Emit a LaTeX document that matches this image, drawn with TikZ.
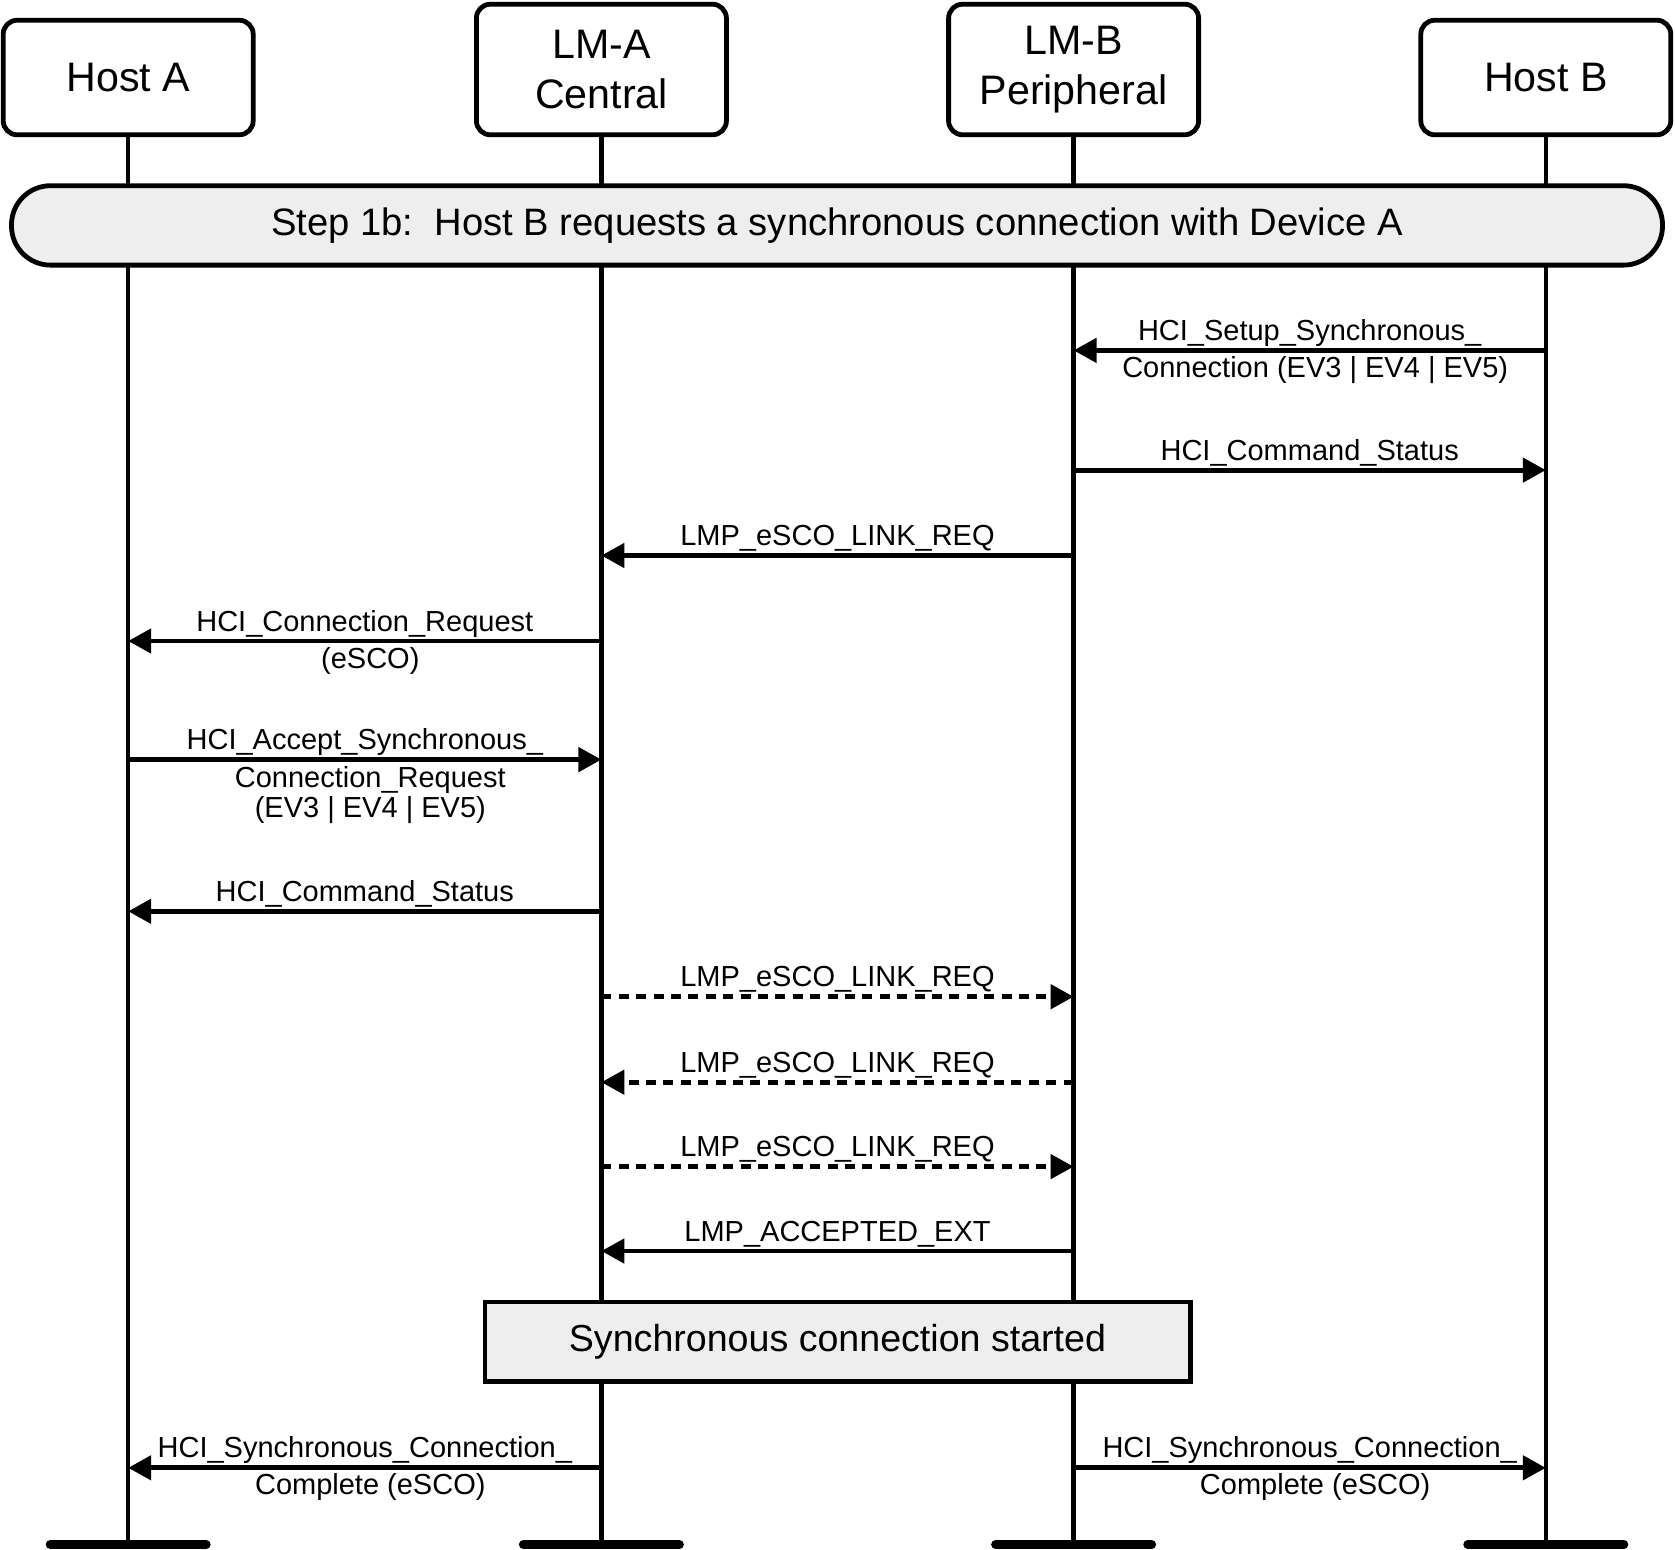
\documentclass[tikz,border=0pt]{standalone}
\usepackage{fontspec}
\setmainfont{Liberation Sans}
\usetikzlibrary{arrows.meta,calc}
\definecolor{bandgray}{HTML}{EEEEEE}
\begin{document}
\begin{tikzpicture}[x=0.5pt,y=-0.5pt,
  actor/.style={draw, line width=2.4pt, rounded corners=7pt, minimum width=125pt, align=center, fill=white,
    inner sep=0pt, font=\fontsize{20.6}{25}\selectfont},
  life/.style={line width=2.2pt},
  msg/.style={line width=2.4pt, -{Triangle[length=11.5pt,width=12pt]}},
  dmsg/.style={msg, dash pattern=on 5pt off 3.7pt},
  lbl/.style={font=\fontsize{14.5}{15}\selectfont, anchor=base, inner sep=0pt},
  endbar/.style={line width=4.5pt, line cap=round},
  band/.style={draw, line width=2.4pt, fill=bandgray, rounded corners=19.5pt, inner sep=0pt,
    minimum width=825.5pt, minimum height=39.7pt, font=\fontsize{19.1}{23}\selectfont},
  startbox/.style={draw, line width=2.4pt, fill=bandgray, inner sep=0pt,
    minimum width=352.6pt, minimum height=39.7pt, font=\fontsize{18.8}{23}\selectfont}
]
\useasboundingbox (0,0) rectangle (1675,1549);

% actors
\node[actor, minimum height=57.3pt] (ha) at (128.2,77.5) {Host A};
\node[actor, minimum height=65.3pt] (la) at (601.4,69.5) {LM-A\\Central};
\node[actor, minimum height=65.3pt] (lb) at (1073.6,69.5) {LM-B\\Peripheral};
\node[actor, minimum height=57.3pt] (hb) at (1545.8,77.5) {Host B};

% lifeline ends
\coordinate (haend) at (128.2,1544.5);
\coordinate (laend) at (601.4,1544.5);
\coordinate (lbend) at (1073.6,1544.5);
\coordinate (hbend) at (1545.8,1544.5);

\draw[life] (ha.south) -- (haend);
\draw[life] (la.south) -- (laend);
\draw[life] (lb.south) -- (lbend);
\draw[life] (hb.south) -- (hbend);

\foreach \e in {haend,laend,lbend,hbend}{
  \draw[endbar] ([xshift=-39pt]\e) -- ([xshift=39pt]\e);
}

% banner
\node[band] (step) at (837,225.4) {Step 1b:\ \ Host B requests a synchronous connection with Device A};

% message anchor points
\coordinate (B1) at (1545.8,350.4);  \coordinate (LB1) at (1073.6,350.4);
\coordinate (B2) at (1545.8,470.1);  \coordinate (LB2) at (1073.6,470.1);
\coordinate (LB3) at (1073.6,555.5); \coordinate (LA3) at (601.4,555.5);
\coordinate (LA4) at (601.4,641.0);  \coordinate (A4) at (128.2,641.0);
\coordinate (A5) at (128.2,759.6);   \coordinate (LA5) at (601.4,759.6);
\coordinate (LA6) at (601.4,911.3);  \coordinate (A6) at (128.2,911.3);
\coordinate (LA7) at (601.4,996.7);  \coordinate (LB7) at (1073.6,996.7);
\coordinate (LB8) at (1073.6,1082.2);\coordinate (LA8) at (601.4,1082.2);
\coordinate (LA9) at (601.4,1166.6); \coordinate (LB9) at (1073.6,1166.6);
\coordinate (LB10) at (1073.6,1251.0);\coordinate (LA10) at (601.4,1251.0);
\coordinate (LA11) at (601.4,1467.8);\coordinate (A11) at (128.2,1467.8);
\coordinate (LB12) at (1073.6,1467.8);\coordinate (B12) at (1545.8,1467.8);

% messages
\draw[msg] (B1) -- (LB1);
\node[lbl] (t1a) at (1309.7,340.4) {HCI\_Setup\_Synchronous\_};
\node[lbl] (t1b) at (1315.2,377.4) {Connection (EV3 | EV4 | EV5)};

\draw[msg] (LB2) -- (B2);
\node[lbl] (t2) at (1309.7,460.1) {HCI\_Command\_Status};

\draw[msg] (LB3) -- (LA3);
\node[lbl] (t3) at (837.5,545.5) {LMP\_eSCO\_LINK\_REQ};

\draw[msg] (LA4) -- (A4);
\node[lbl] (t4a) at (364.8,631.0) {HCI\_Connection\_Request};
\node[lbl] (t4b) at (370.3,668.0) {(eSCO)};

\draw[msg] (A5) -- (LA5);
\node[lbl] (t5a) at (364.8,749.6) {HCI\_Accept\_Synchronous\_};
\node[lbl] (t5b) at (370.3,787.1) {Connection\_Request};
\node[lbl] (t5c) at (370.3,817.1) {(EV3 | EV4 | EV5)};

\draw[msg] (LA6) -- (A6);
\node[lbl] (t6) at (364.8,901.3) {HCI\_Command\_Status};

\draw[dmsg] (LA7) -- (LB7);
\node[lbl] (t7) at (837.5,986.7) {LMP\_eSCO\_LINK\_REQ};

\draw[dmsg] (LB8) -- (LA8);
\node[lbl] (t8) at (837.5,1072.2) {LMP\_eSCO\_LINK\_REQ};

\draw[dmsg] (LA9) -- (LB9);
\node[lbl] (t9) at (837.5,1156.6) {LMP\_eSCO\_LINK\_REQ};

\draw[msg] (LB10) -- (LA10);
\node[lbl] (t10) at (837.5,1241.0) {LMP\_ACCEPTED\_EXT};

% started box
\node[startbox] (sync) at (837.5,1341.7) {Synchronous connection started};

\draw[msg] (LA11) -- (A11);
\node[lbl] (t11a) at (364.8,1457.8) {HCI\_Synchronous\_Connection\_};
\node[lbl] (t11b) at (370.3,1494.8) {Complete (eSCO)};

\draw[msg] (LB12) -- (B12);
\node[lbl] (t12a) at (1309.7,1457.8) {HCI\_Synchronous\_Connection\_};
\node[lbl] (t12b) at (1315.2,1494.8) {Complete (eSCO)};
\end{tikzpicture}
\end{document}
